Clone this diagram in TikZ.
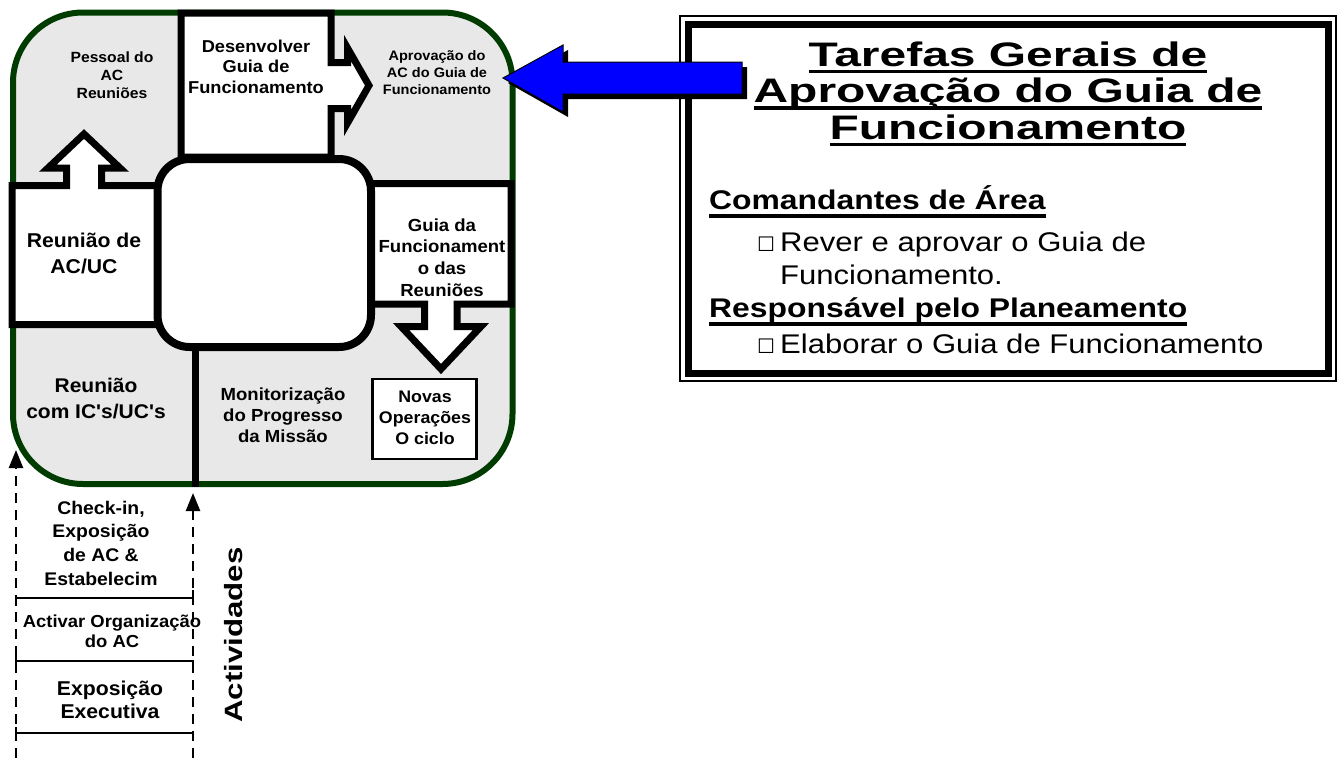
\documentclass[tikz,border=0pt]{standalone}
\usepackage{fontspec}
\usetikzlibrary{arrows.meta}
\setmainfont{Liberation Sans}
\newfontfamily\labfont[FakeStretch=1.06]{Liberation Sans}
\newfontfamily\vertfont[FakeStretch=1.25]{Liberation Sans}
\newfontfamily\titlefont[FakeStretch=1.41]{Liberation Sans}
\newfontfamily\panelfont[FakeStretch=1.18]{Liberation Sans}
\newfontfamily\bodyfont[FakeStretch=1.15]{Liberation Sans}
\newfontfamily\symbolfont{DejaVu Sans}
\newcommand\fs[2]{\fontsize{#1}{#2}\selectfont}
\newcommand\mlines[1]{\begin{tabular}[t]{@{}c@{}}#1\end{tabular}}
% underlined text: #1 rule bottom below baseline, #2 rule thickness
\newcommand\ulbox[3]{\setbox0\hbox{#3}\rlap{\rule[-#1]{\wd0}{#2}}\box0}
\definecolor{dkgreen}{RGB}{0,60,0}
\definecolor{panelgray}{RGB}{232,232,232}
\definecolor{arrowblue}{RGB}{0,0,255}
\tikzset{
  boxline/.style={draw=black, line width=7pt, fill=white, line join=miter},
  lbl/.style={inner sep=0pt, anchor=base, text=black},
  plain/.style={inner sep=0pt, anchor=base west, text=black},
  dasharrow/.style={line width=2.5pt, dash pattern=on 10pt off 7pt, -{Triangle[length=18pt,width=14pt]}},
  sepline/.style={line width=2pt},
}
\begin{document}
\begin{tikzpicture}[x=1pt,y=-1pt]
\useasboundingbox (0,0) rectangle (1342,758);
\fill[white] (0,0) rectangle (1342,758);

% cycle panel
\draw[draw=dkgreen, line width=6pt, fill=panelgray, rounded corners=70pt] (13,12.5) rectangle (512.5,484);

% top block with right-pointing arrow
\draw[boxline] (181,13) -- (331,13) -- (331,62.5) -- (347.5,62.5) -- (347.5,48) -- (369,85.5)
  -- (347.5,123) -- (347.5,108.5) -- (331,108.5) -- (331,157) -- (181,157) -- cycle;
% left block with upward arrow
\draw[boxline] (12,185.5) -- (66.5,185.5) -- (66.5,168) -- (48,168) -- (84,134) -- (120,168)
  -- (101.5,168) -- (101.5,185.5) -- (159,185.5) -- (159,324.5) -- (12,324.5) -- cycle;
% right block with downward arrow
\draw[boxline] (371,183.5) -- (511,183.5) -- (511,304) -- (457,304) -- (457,326.5) -- (481,326.5)
  -- (441,369) -- (401,326.5) -- (424.5,326.5) -- (424.5,304) -- (371,304) -- cycle;

% central hub
\node[draw=black, fill=white, line width=8pt, rounded corners=32pt, inner sep=0pt,
      minimum width=213.5pt, minimum height=188pt] (hub) at (264.25,253) {};
\coordinate (divbot) at (195,487);
\draw[line width=7pt] (hub.south -| divbot) -- (divbot);

% small box
\node[draw=black, fill=white, line width=2.5pt, inner sep=0pt,
      minimum width=104pt, minimum height=80pt] (novasbox) at (424.5,419) {};

% labels of the cycle
\node[lbl, font=\labfont\bfseries\fs{14.8}{18}] (pessoal) at (112,62) {\mlines{Pessoal do\\AC\\Reuniões}};
\node[lbl, font=\labfont\bfseries\fs{17.2}{20.5}] (desenv) at (256,52) {\mlines{Desenvolver\\Guia de\\Funcionamento}};
\node[lbl, font=\labfont\bfseries\fs{13.7}{17}] (aprov) at (437,60) {\mlines{Aprovação do\\AC do Guia de\\Funcionamento}};
\node[lbl, font=\labfont\bfseries\fs{20}{26}] (reuniaoac) at (84,247) {\mlines{Reunião de\\AC/UC}};
\node[lbl, font=\labfont\bfseries\fs{17.5}{21.7}] (guiafunc) at (442,231) {\mlines{Guia da\\Funcionament\\o das\\Reuniões}};
\node[lbl, font=\labfont\bfseries\fs{19.8}{26}] (reuniaoic) at (96,392) {\mlines{Reunião\\com IC's/UC's}};
\node[lbl, font=\labfont\bfseries\fs{17.5}{21}] (monit) at (283,400) {\mlines{Monitorização\\do Progresso\\da Missão}};
\node[lbl, font=\labfont\bfseries\fs{16.8}{21}] (novas) at (425,402) {\mlines{Novas\\Operações\\O ciclo}};

% activities column
\coordinate (ltop) at (16,450);
\coordinate (lbot) at (16,758);
\coordinate (rtop) at (193,493);
\coordinate (rbot) at (193,758);
\draw[dasharrow] (lbot) -- (ltop);
\draw[dasharrow] (rbot) -- (rtop);
\draw[sepline] (16,606) -- (16,598) -- (193,598) -- (193,590);
\draw[sepline] (16,655) -- (16,668) (16,661) -- (193,661) -- (193,668);
\draw[sepline] (16,727) -- (16,739) (16,733) -- (193,733);
\node[lbl, font=\labfont\bfseries\fs{18.3}{23.7}] (checkin) at (101,514) {\mlines{Check-in,\\Exposição\\de AC \&\\Estabelecim}};
\node[lbl, font=\labfont\bfseries\fs{17.4}{20}] (activar) at (112,627) {\mlines{Activar Organização\\do AC}};
\node[lbl, font=\labfont\bfseries\fs{20}{23}] (exposicao) at (110,695) {\mlines{Exposição\\Executiva}};
\node[lbl, rotate=90, font=\vertfont\bfseries\fs{25}{30}] (activ) at (242,635) {Actividades};

% task panel
\draw[line width=2pt] (680,16) rectangle (1336,381);
\draw[line width=7pt] (688,24) rectangle (1328,373);
\node[lbl, font=\titlefont\bfseries\fs{34}{36.5}] (title) at (1008,66)
  {\mlines{\ulbox{7pt}{3.3pt}{Tarefas Gerais de}\\\ulbox{7pt}{3.3pt}{Aprovação do Guia de}\\\ulbox{7pt}{3.3pt}{Funcionamento}}};
\node[plain, font=\panelfont\bfseries\fs{27}{30}] (cmd) at (709,209) {\ulbox{8.5pt}{3.5pt}{Comandantes de Área}};
\node[plain, font=\symbolfont\fs{20}{20}] (bx1) at (757,251) {☐};
\node[plain, font=\bodyfont\fs{27}{30}] (t1) at (780,251) {Rever e aprovar o Guia de};
\node[plain, font=\bodyfont\fs{27}{30}] (t2) at (780,284) {Funcionamento.};
\node[plain, font=\panelfont\bfseries\fs{27}{30}] (resp) at (709,317) {\ulbox{8.5pt}{3.5pt}{Responsável pelo Planeamento}};
\node[plain, font=\symbolfont\fs{20}{20}] (bx2) at (757,353) {☐};
\node[plain, font=\bodyfont\fs{27}{30}] (t3) at (780,353) {Elaborar o Guia de Funcionamento};

% block arrow from the panel to the approval step
\fill[black] (747,67) -- (568,67) -- (568,50) -- (508,83) -- (568,117) -- (568,99) -- (747,99) -- cycle;
\draw[fill=arrowblue, draw=black, line width=1pt, line join=miter]
  (742,62) -- (563,62) -- (563,45) -- (503,78) -- (563,112) -- (563,94) -- (742,94) -- cycle;
\end{tikzpicture}
\end{document}
